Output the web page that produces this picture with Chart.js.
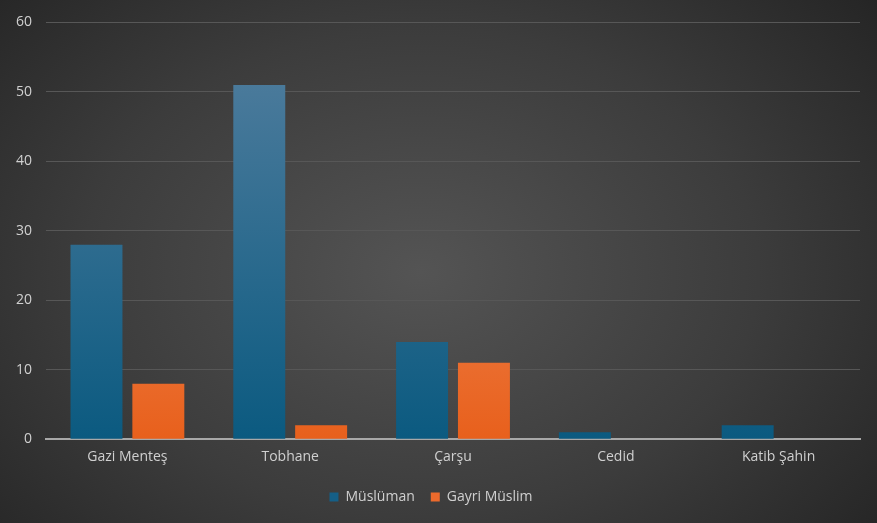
<!DOCTYPE html>
<html>
<head>
<meta charset="utf-8">
<script src="https://cdn.jsdelivr.net/npm/chart.js@4/dist/chart.umd.min.js"></script>
<style>
  html, body { margin: 0; padding: 0; }
  body {
    width: 877px; height: 523px; overflow: hidden;
    background: radial-gradient(ellipse 70% 85% at 48% 52%, #545454 0%, #3c3c3c 55%, #232323 100%);
  }
  #wrap { position: relative; width: 877px; height: 523px; }
</style>
</head>
<body>
<div id="wrap"><canvas id="grafico"></canvas></div>
<script>
var mahalleler = ['Gazi Menteş', 'Tobhane', 'Çarşu', 'Cedid', 'Katib Şahin'];
var musluman = [28, 51, 14, 1, 2];
var gayriMuslim = [8, 2, 11, 0, 0];
var yTicks = [0, 10, 20, 30, 40, 50, 60];

var gradyan = function (ctx, ust, alt) {
    var chart = ctx.chart;
    var area = chart.chartArea;
    if (!area) return alt;
    var g = chart.ctx.createLinearGradient(0, area.top + 60, 0, area.bottom);
    g.addColorStop(0, ust);
    g.addColorStop(1, alt);
    return g;
};

var config = {
    type: 'bar',
    data: {
        labels: mahalleler,
        datasets: [
            {
                label: 'Müslüman',
                data: musluman,
                backgroundColor: function (ctx) { return gradyan(ctx, '#4a7a9b', '#0b5a80'); },
                borderWidth: 0
            },
            {
                label: 'Gayri Müslim',
                data: gayriMuslim,
                backgroundColor: function (ctx) { return gradyan(ctx, '#f29a70', '#e8601c'); },
                borderWidth: 0
            }
        ]
    },
    options: {
        responsive: false,
        animation: false,
        categoryPercentage: 0.76,
        barPercentage: 0.84,
        layout: { padding: { left: 2, right: 17, top: 8, bottom: 9 } },
        plugins: {
            legend: {
                position: 'bottom',
                labels: {
                    color: '#d0d0d0',
                    boxWidth: 9,
                    boxHeight: 9,
                    padding: 16,
                    font: { family: 'Open Sans', size: 14 },
                    generateLabels: function (chart) {
                        var renkler = ['#155f87', '#ec6a2c'];
                        return chart.data.datasets.map(function (ds, i) {
                            return {
                                text: ds.label,
                                fillStyle: renkler[i],
                                strokeStyle: renkler[i],
                                lineWidth: 0,
                                fontColor: '#d0d0d0',
                                datasetIndex: i
                            };
                        });
                    }
                }
            },
            tooltip: { enabled: false }
        },
        scales: {
            x: {
                grid: { display: false, drawTicks: false },
                border: { display: true, color: '#a8a8a8', width: 2 },
                ticks: { color: '#d0d0d0', padding: 9, font: { family: 'Open Sans', size: 14 } }
            },
            y: {
                min: 0,
                max: 60,
                afterBuildTicks: function (axis) {
                    axis.ticks = yTicks.map(function (v) { return { value: v }; });
                },
                grid: { color: '#575757', lineWidth: 1, drawTicks: false },
                border: { display: false },
                ticks: { color: '#d0d0d0', padding: 14, font: { family: 'Open Sans', size: 14 } }
            }
        }
    }
};

var canvas = document.getElementById('grafico');
canvas.width = 877;
canvas.height = 523;
new Chart(canvas.getContext('2d'), config);
</script>
</body>
</html>
